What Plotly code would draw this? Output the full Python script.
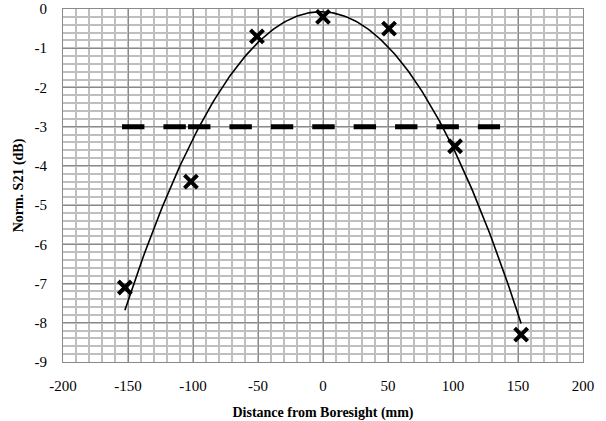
import numpy as np
import plotly.graph_objects as go

# Measured points (mm, normalised dB)
distance_mm = [-152.4, -101.6, -50.8, 0.0, 50.8, 101.6, 152.4]
norm_s21_db = [-7.1, -4.4, -0.7, -0.2, -0.5, -3.5, -8.3]

# -3 dB reference line (two segments as drawn)
ref_seg1_x = [-154.6, -101.6]
ref_seg2_x = [-103.8, 136.2]
ref_level = -3

# Axis ticks
x_ticks = [-200, -150, -100, -50, 0, 50, 100, 150, 200]
x_tick_text = ["-200", "-150", "-100", "-50", "0", "50", "100", "150", "200"]
y_ticks = [0, -1, -2, -3, -4, -5, -6, -7, -8, -9]
y_tick_text = ["0", "-1", "-2", "-3", "-4", "-5", "-6", "-7", "-8", "-9"]

# 2nd order polynomial trendline of the measured points
coef = np.polyfit(distance_mm, norm_s21_db, 2)
fit_x = np.linspace(min(distance_mm), max(distance_mm), 200)
fit_y = np.polyval(coef, fit_x)

FONT = "Liberation Serif"
fig = go.Figure()

for seg in (ref_seg1_x, ref_seg2_x):
    fig.add_trace(go.Scatter(
        x=seg, y=[ref_level, ref_level], mode="lines",
        line=dict(color="black", width=5, dash="22.4px,19px"),
        showlegend=False, hoverinfo="skip"))

fig.add_trace(go.Scatter(
    x=fit_x, y=fit_y, mode="lines",
    line=dict(color="black", width=1.6), showlegend=False))

fig.add_trace(go.Scatter(
    x=distance_mm, y=norm_s21_db, mode="markers",
    marker=dict(symbol="x-thin", size=13, line=dict(color="black", width=4)),
    showlegend=False))

grid_major = "#8a8a8a"
grid_minor = "#bfbfbf"

fig.update_layout(
    width=606, height=421,
    margin=dict(l=63, r=23, t=9, b=59),
    paper_bgcolor="white", plot_bgcolor="white",
    font=dict(family=FONT, size=15, color="black"),
    xaxis=dict(
        range=[-200, 200], tickvals=x_ticks, ticktext=x_tick_text,
        automargin=False,
        showgrid=True, gridcolor=grid_major, gridwidth=1,
        minor=dict(dtick=10, tick0=0, showgrid=True, gridcolor=grid_minor, gridwidth=1.5),
        zeroline=False, showline=True, linecolor=grid_major, linewidth=1, mirror=True,
        ticks="", ticklabelstandoff=10, tickfont=dict(family=FONT, size=15),
        title=dict(text="<b>Distance from Boresight (mm)</b>", font=dict(family=FONT, size=14), standoff=17),
    ),
    yaxis=dict(
        range=[-9, 0], tickvals=y_ticks, ticktext=y_tick_text,
        automargin=False,
        showgrid=True, gridcolor=grid_major, gridwidth=1,
        minor=dict(dtick=0.2, tick0=0, showgrid=True, gridcolor=grid_minor, gridwidth=1.5),
        zeroline=False, showline=True, linecolor=grid_major, linewidth=1, mirror=True,
        ticks="", ticklabelstandoff=12, tickfont=dict(family=FONT, size=15),
        title=dict(text="<b>Norm. S21 (dB)</b>", font=dict(family=FONT, size=14), standoff=7),
    ),
)

fig.write_html("out.html")
